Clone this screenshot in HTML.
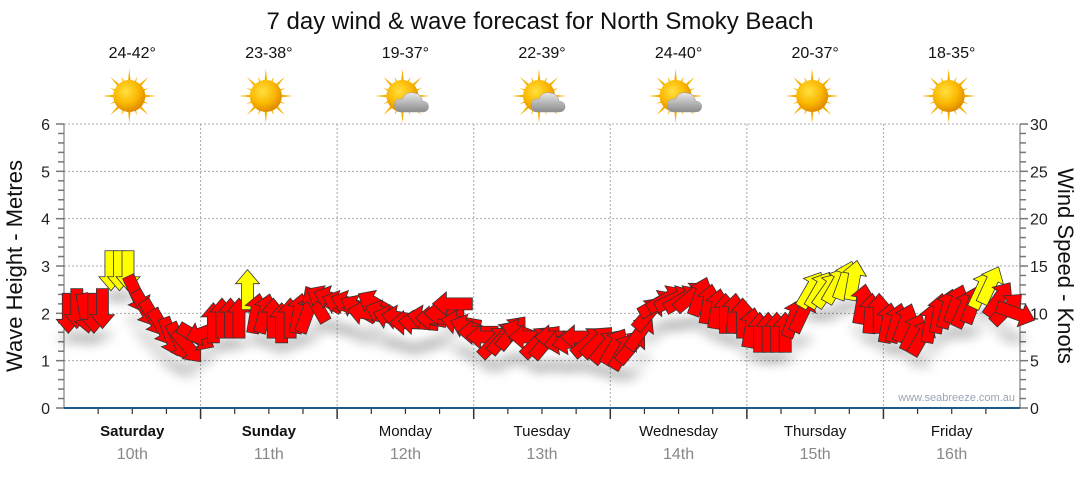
<!DOCTYPE html>
<html><head><meta charset="utf-8"><style>
body{margin:0;background:#fff;}
svg text{font-family:"Liberation Sans","DejaVu Sans",sans-serif;}
</style></head><body>
<svg id="c" width="1080" height="475" viewBox="0 0 1080 475">
<defs>
<filter id="sh" x="-50%" y="-50%" width="200%" height="250%"><feGaussianBlur stdDeviation="5"/></filter>
<radialGradient id="sun" cx="40%" cy="35%" r="65%"><stop offset="0" stop-color="#ffe040"/><stop offset="0.6" stop-color="#fbb800"/><stop offset="1" stop-color="#e08a00"/></radialGradient>
<linearGradient id="cloud" x1="0" y1="0" x2="0" y2="1"><stop offset="0" stop-color="#e8e8e8"/><stop offset="1" stop-color="#8a8a8a"/></linearGradient>
</defs>
<text x="540" y="29" font-size="24" text-anchor="middle" fill="#111">7 day wind &amp; wave forecast for North Smoky Beach</text>
<g id="grid"></g><g id="axes"></g><g id="wx"></g><g id="shadows"></g><g id="arrows"></g>
<text x="1015" y="401" font-size="11" text-anchor="end" fill="#9aa4b4">www.seabreeze.com.au</text>
<text transform="translate(22,266) rotate(-90)" font-size="22" text-anchor="middle" fill="#111">Wave Height - Metres</text>
<text transform="translate(1058,266) rotate(90)" font-size="22" text-anchor="middle" fill="#111">Wind Speed - Knots</text>
</svg>
<script>
const days=["Saturday","Sunday","Monday","Tuesday","Wednesday","Thursday","Friday"];
const dates=["10th","11th","12th","13th","14th","15th","16th"];
const temps=["24-42°","23-38°","19-37°","22-39°","24-40°","20-37°","18-35°"];
const cloudy=[false,false,true,true,true,false,false];
const waveTicks=[0,1,2,3,4,5,6];
const windTicks=[0,5,10,15,20,25,30];
const windSpeed=[
10,10.5,10,10,10.5,14.5,14.5,14.5,12,10.5,9.5,8.5,7.5,7,6.5,7.5,
8,9,9.5,9.5,9.5,12.5,10,10,9.5,9,9.5,10,10,11,11.5,11.5,
11,11,10.5,10,11,10,9.5,9.5,9,9,9.5,9.5,10,11,9,8.5,
8,7.5,7,7.5,8,8,7.5,7,7,7.5,7,7,7.5,7,7,6.5,
6.5,6,6.5,8,10,11,11.5,11.5,11.5,11.8,11.8,11,10.5,10,10,9.5,
8.5,8,8,8,8,9.5,10,12.5,12.5,12.5,13,13.5,13.5,11,10,10,
9,9,9,8,7.5,9,10,10.5,11,10.5,11,12.5,13,11.5,10.5,10];
const windDir=[
180,180,170,180,180,180,180,180,155,150,150,150,160,155,140,120,
250,0,0,0,0,0,10,15,0,0,0,10,20,330,300,290,
290,290,300,280,300,290,285,280,270,275,280,270,270,270,280,290,
270,270,45,40,40,290,270,45,40,270,260,260,270,50,45,40,
30,30,40,35,40,60,60,65,60,50,20,10,10,0,5,0,
10,0,0,0,0,20,25,30,30,35,30,20,10,10,5,0,
10,15,20,25,30,10,10,15,20,25,20,25,25,35,45,110];
const X0=64,X1=1020,Y0=408,Y1=124,DW=(X1-X0)/7;
const yWave=v=>Y0-(v/6)*(Y0-Y1);
const yWind=v=>Y0-(v/30)*(Y0-Y1);
const xIdx=i=>X0+(i+0.5)*(X1-X0)/windSpeed.length;
const NS="http://www.w3.org/2000/svg";
function mk(tag,attrs,parent){const e=document.createElementNS(NS,tag);for(const k in attrs)e.setAttribute(k,attrs[k]);parent.appendChild(e);return e;}
const grid=document.getElementById('grid'),axes=document.getElementById('axes'),wx=document.getElementById('wx');
waveTicks.forEach(t=>{
 if(t>0){const l=mk('line',{x1:X0,x2:X1,y1:yWave(t),y2:yWave(t),stroke:'#aaa','stroke-dasharray':'2,2'},grid);
 
 }
 const tx=mk('text',{x:50,y:yWave(t)+6,'font-size':16,'text-anchor':'end',fill:'#222'},axes);tx.textContent=t;
 
 
});
windTicks.forEach(t=>{
 const tx=mk('text',{x:1030,y:yWind(t)+6,'font-size':16,fill:'#222'},axes);tx.textContent=t;
 
 
});
for(let k=0;k<=30;k++){const y=Y0-k*(Y0-Y1)/30;
 mk('line',{x1:k%5==0?56:58,x2:X0,y1:y,y2:y,stroke:'#777','stroke-width':1.5},axes);
 mk('line',{x1:X1,x2:k%5==0?1028:1026,y1:y,y2:y,stroke:'#777','stroke-width':1.5},axes);}
mk('line',{x1:X0,x2:X0,y1:Y1,y2:Y0,stroke:'#666'},axes);
mk('line',{x1:X1,x2:X1,y1:Y1,y2:Y0,stroke:'#666'},axes);
for(let d=0;d<7;d++){
 const xs=X0+d*DW,cx=xs+DW/2;
 if(d>0){const l=mk('line',{x1:xs,x2:xs,y1:Y1,y2:Y0,stroke:'#aaa','stroke-dasharray':'2,2'},grid);
 
 
 mk('line',{x1:xs,x2:xs,y1:Y0,y2:419,stroke:'#333','stroke-width':1.5},axes);}
 for(let q=1;q<4;q++)mk('line',{x1:xs+q*DW/4,x2:xs+q*DW/4,y1:Y0,y2:414,stroke:'#333','stroke-width':1.2},axes);
 const dl=mk('text',{x:cx,y:436,'font-size':15,'text-anchor':'middle',fill:'#111','font-weight':d<2?'bold':'normal'},axes);dl.textContent=days[d];
 
 
 const dt=mk('text',{x:cx,y:459,'font-size':16,'text-anchor':'middle',fill:'#888'},axes);dt.textContent=dates[d];
 
 
 const tt=mk('text',{x:cx,y:58,'font-size':16,'text-anchor':'middle',fill:'#111'},wx);tt.textContent=temps[d];
 
 
 const g=mk('g',{transform:`translate(${cx-3},96)`},wx);
 
 
 for(let r=0;r<16;r++){const a=r*22.5,len=r%2?21:27;
  mk('polygon',{points:`-3,0 3,0 0,${-len}`,fill:'#f5b000',transform:`rotate(${a})`},g);}
 mk('circle',{r:16,fill:'url(#sun)'},g);
 if(cloudy[d]){mk('path',{d:'M-2,16 Q-8,16 -8,9 Q-8,2 0,3 Q3,-5 12,-3 Q19,-2 20,5 Q27,6 26,12 Q25,16 20,16 Z',fill:'url(#cloud)',stroke:'#999','stroke-width':0.5},g);}
}
mk('line',{x1:X0,x2:X1,y1:Y0,y2:Y0,stroke:'#1a5a8a','stroke-width':2},axes);
const shadows=document.getElementById('shadows'),arrows=document.getElementById('arrows');
const shape='0,-20 12,-6 6,-6 6,20 -6,20 -6,-6 -12,-6';
windSpeed.forEach((v,i)=>{
 const x=xIdx(i),y=yWind(v);
 const s=mk('ellipse',{cx:x,cy:y+26,rx:12,ry:6,fill:'#000','fill-opacity':0.12,filter:'url(#sh)'},shadows);
 
 
 const p=mk('polygon',{points:shape,transform:`translate(${x},${y}) rotate(${windDir[i]})`,fill:v>=12.3?'#ffff00':'#ff0000',stroke:'#333','stroke-width':0.8},arrows);
 
 
});
</script>
</body></html>
